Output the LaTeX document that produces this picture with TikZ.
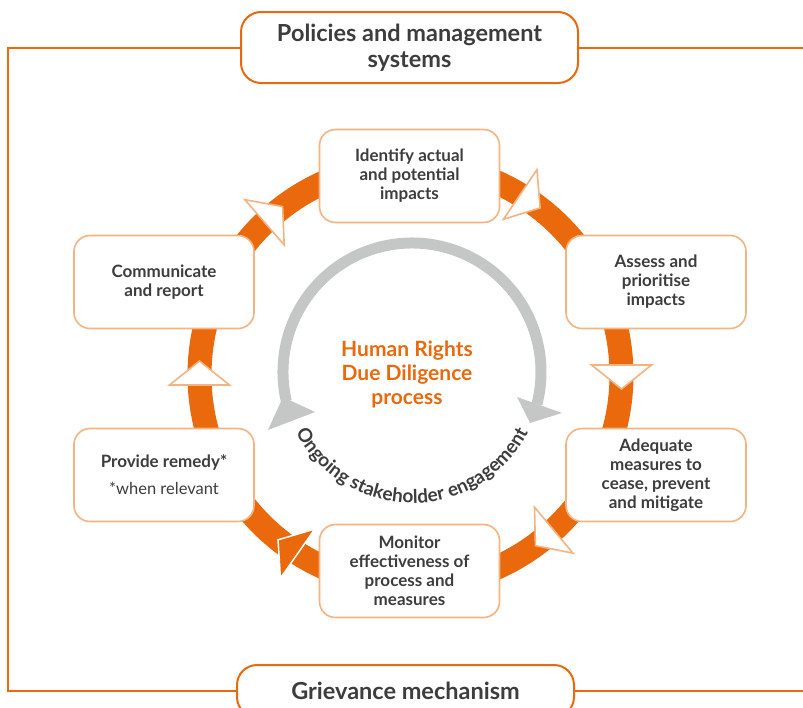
\documentclass[tikz,border=0pt]{standalone}
\usepackage{fontspec}
\setmainfont{Lato}
\usetikzlibrary{calc,decorations.text}
\definecolor{orng}{HTML}{E9690C}
\definecolor{lorng}{HTML}{F6B27F}
\definecolor{gry}{HTML}{C5C6C6}
\definecolor{dark}{HTML}{3D3D3D}
\begin{document}
\begin{tikzpicture}[x=1pt,y=-1pt,
  stepbox/.style={draw=lorng, line width=1.6pt, fill=white, rounded corners=16pt,
    minimum width=180pt, minimum height=93pt, align=center, text=dark,
    font=\fontsize{17}{19}\selectfont\bfseries, inner sep=0pt},
  framebox/.style={draw=orng, line width=2pt, fill=white, rounded corners=20pt,
    minimum width=337pt, align=center, text=dark,
    font=\fontsize{23.5}{26}\selectfont\bfseries, inner sep=0pt},
  tri/.style={fill=white, draw=lorng, line width=1.6pt, line join=miter},
  trifull/.style={fill=orng, draw=white, line width=1.5pt, line join=miter},
  frameline/.style={draw=orng, line width=2pt},
  ring/.style={draw=orng, line width=24pt},
  greyarc/.style={draw=gry, line width=11pt},
  greytip/.style={fill=gry}
]
\useasboundingbox (0,0) rectangle (803,707);
\clip (0,0) rectangle (803,707);

% outer frame boxes
\node[framebox, minimum height=71pt] (top) at (409.5,47.5) {Policies and management\\systems};
\node[framebox, minimum height=52pt] (bot) at (405.5,691) {Grievance mechanism};
\draw[frameline] (top.west) -- (8,47.5) -- (8,691) -- (bot.west);
\draw[frameline] (top.east) -- (806,47.5);
\draw[frameline] (bot.east) -- (806,691);

% orange ring
\coordinate (C) at (410.5,375);
\draw[ring] (C) circle[radius=211];

% step boxes
\node[stepbox] (identify) at (409.5,176) {Identify actual\\and potential\\impacts};
\node[stepbox] (assess) at (656,282) {Assess and\\prioritise\\impacts};
\node[stepbox] (adequate) at (656,475) {Adequate\\measures to\\cease, prevent\\and mitigate};
\node[stepbox] (monitor) at (409.5,571) {Monitor\\effectiveness of\\process and\\measures};
\node[stepbox] (remedy) at (164,475) {Provide remedy*\\[8pt]{\normalfont\fontsize{16.5}{19}\selectfont *when relevant}};
\node[stepbox] (communicate) at (164,282) {Communicate\\and report};

% arrowheads on ring
\foreach \a in {-131,-56,0,50,180} {
  \pgfmathsetmacro\b{\a+90}
  \draw[tri] ($(C)+(\a:181)+(\b:-10)$) -- ($(C)+(\a:241)+(\b:-10)$) -- ($(C)+(\a:211)+(\b:14)$) -- cycle;
}
\foreach \a in {125} {
  \pgfmathsetmacro\b{\a+90}
  \draw[trifull] ($(C)+(\a:181)+(\b:-10)$) -- ($(C)+(\a:241)+(\b:-10)$) -- ($(C)+(\a:211)+(\b:14)$) -- cycle;
}

% grey engagement arc
\coordinate (G) at (412,372);
\draw[greyarc] (G) ++(167:129) arc[start angle=167, end angle=374.5, radius=129];
\fill[greytip] (283,397) -- (315,412) -- (268,430) -- cycle;
\fill[greytip] (517,397) -- (562,413) -- (530,423) -- cycle;

% centre title
\node[align=center, text=orng, font=\fontsize{21}{24}\selectfont\bfseries] (title) at (407,374) {Human Rights\\Due Diligence\\process};

% curved text
\path[decorate, decoration={text along path, text align=center, text color=dark,
  text={|\fontsize{19}{21}\selectfont\bfseries|Ongoing stakeholder engagement}}]
  (G) ++(156:131) arc[start angle=156, end angle=24, radius=131];
\end{tikzpicture}
\end{document}
